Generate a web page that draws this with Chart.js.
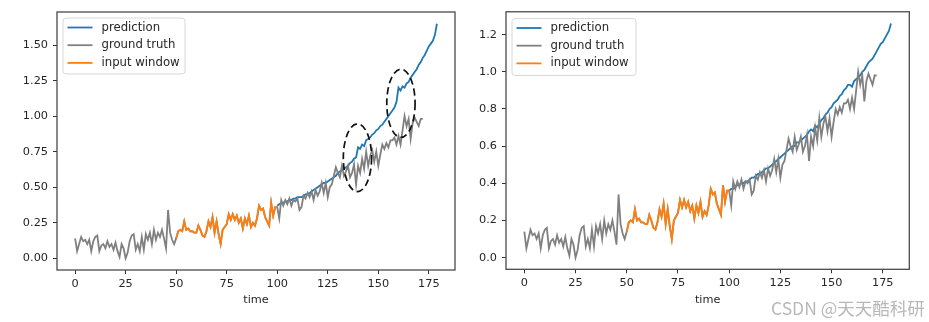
<!DOCTYPE html>
<html>
<head>
<meta charset="utf-8">
<script src="https://cdn.jsdelivr.net/npm/chart.js@4.4.1/dist/chart.umd.min.js"></script>
<style>
  html, body { margin: 0; padding: 0; background: #fff; }
  #wrap { position: relative; width: 929px; height: 322px; overflow: hidden; }
  #leftBox { position: absolute; left: 0; top: 0; width: 460px; height: 322px; }
  #rightBox { position: absolute; left: 460px; top: 0; width: 469px; height: 322px; }
  #mark { position: absolute; left: 771px; top: 295px; font: 17.5px "Noto Sans CJK SC", sans-serif;
          color: #b8b8b8; white-space: nowrap; }
</style>
</head>
<body>
<div id="wrap">
  <div id="leftBox"><canvas id="leftChart"></canvas></div>
  <div id="rightBox"><canvas id="rightChart"></canvas></div>
  <div id="mark">CSDN @天天酷科研</div>
</div>
<script>
// observed series, t = 0..172
const groundTruth = [
  0.14, 0.05, 0.10, 0.15, 0.12, 0.13, 0.10, 0.13, 0.05, 0.12,
  0.15, 0.16, 0.05, 0.09, 0.10, 0.07, 0.12, 0.08, 0.10, 0.06,
  0.11, 0.05, 0.01, 0.10, 0.07, 0.00, 0.04, 0.12, 0.16, 0.17,
  0.06, 0.10, 0.05, 0.15, 0.06, 0.17, 0.13, 0.18, 0.10, 0.20,
  0.13, 0.18, 0.15, 0.20, 0.14, 0.07, 0.34, 0.18, 0.13, 0.10,
  0.14, 0.19, 0.20, 0.19, 0.26, 0.20, 0.21, 0.19, 0.19, 0.18,
  0.18, 0.23, 0.20, 0.16, 0.15, 0.19, 0.26, 0.22, 0.29, 0.18,
  0.26, 0.17, 0.10, 0.20, 0.22, 0.24, 0.31, 0.27, 0.31, 0.27,
  0.30, 0.25, 0.28, 0.21, 0.28, 0.24, 0.30, 0.22, 0.25, 0.23,
  0.28, 0.37, 0.34, 0.35, 0.29, 0.26, 0.23, 0.39, 0.30, 0.36,
  0.36, 0.28, 0.41, 0.37, 0.41, 0.38, 0.42, 0.37, 0.41, 0.40,
  0.42, 0.34, 0.36, 0.44, 0.42, 0.46, 0.43, 0.47, 0.41, 0.48,
  0.44, 0.47, 0.53, 0.46, 0.53, 0.43, 0.50, 0.52, 0.58, 0.64,
  0.60, 0.57, 0.65, 0.58, 0.61, 0.65, 0.57, 0.60, 0.66, 0.52,
  0.65, 0.60, 0.70, 0.63, 0.75, 0.65, 0.72, 0.76, 0.68, 0.75,
  0.65, 0.73, 0.80, 0.77, 0.81, 0.78, 0.83, 0.83, 0.85, 0.80,
  0.86, 0.80, 0.90, 1.00, 0.93, 0.98, 0.84, 0.95, 0.99, 0.96,
  0.93, 0.98, 0.98
];

// input window covers t = 50..100
const windowStart = 50;
const windowEnd = 100;

// forecasts, t = 100..179
const predStart = 100;
const predLeft = [
  0.37, 0.38, 0.39, 0.39, 0.40, 0.40, 0.41, 0.41, 0.42, 0.42,
  0.43, 0.43, 0.43, 0.44, 0.45, 0.45, 0.46, 0.47, 0.48, 0.49,
  0.50, 0.51, 0.52, 0.53, 0.53, 0.54, 0.55, 0.56, 0.57, 0.58,
  0.60, 0.61, 0.62, 0.63, 0.64, 0.65, 0.67, 0.68, 0.70, 0.71,
  0.78, 0.77, 0.80, 0.79, 0.83, 0.84, 0.85, 0.87, 0.88, 0.90,
  0.91, 0.93, 0.94, 0.96, 0.98, 1.00, 1.02, 1.04, 1.06, 1.10,
  1.20, 1.18, 1.21, 1.20, 1.23, 1.24, 1.27, 1.29, 1.31, 1.33,
  1.36, 1.38, 1.41, 1.43, 1.46, 1.49, 1.51, 1.53, 1.57, 1.65
];
const predRight = [
  0.36, 0.37, 0.37, 0.38, 0.39, 0.39, 0.40, 0.40, 0.41, 0.41,
  0.42, 0.43, 0.43, 0.44, 0.45, 0.45, 0.46, 0.47, 0.48, 0.48,
  0.49, 0.50, 0.51, 0.52, 0.53, 0.54, 0.55, 0.56, 0.57, 0.58,
  0.59, 0.60, 0.60, 0.62, 0.62, 0.63, 0.64, 0.65, 0.66, 0.68,
  0.69, 0.68, 0.71, 0.70, 0.72, 0.74, 0.75, 0.77, 0.78, 0.80,
  0.81, 0.83, 0.84, 0.85, 0.87, 0.88, 0.90, 0.91, 0.93, 0.93,
  0.92, 0.95, 0.96, 0.97, 0.98, 1.00, 1.01, 1.03, 1.05, 1.06,
  1.07, 1.09, 1.11, 1.13, 1.15, 1.16, 1.18, 1.20, 1.22, 1.26
];

const xTicks = [0, 25, 50, 75, 100, 125, 150, 175];
const yTicksLeft = [0, 0.25, 0.5, 0.75, 1.0, 1.25, 1.5];
const yTicksRight = [0, 0.2, 0.4, 0.6, 0.8, 1.0, 1.2];

// dashed ellipses marking the jumps in the left forecast (data units)
const highlights = [
  { x: 139.7, y: 0.707, rx: 7.0, ry: 0.238 },
  { x: 161.2, y: 1.090, rx: 7.0, ry: 0.240 }
];

const BLUE = '#1f77b4', GRAY = '#808080', ORANGE = '#ff7f0e';
const FONT = 'DejaVu Sans';

function toPoints(values, start) {
  return values.map((v, i) => ({ x: start + i, y: v }));
}

function lineSet(label, data, color, order) {
  return { label, data, borderColor: color, backgroundColor: color, borderWidth: 1.8,
           pointRadius: 0, tension: 0, order };
}

// axes frame drawn on all four sides
const framePlugin = {
  id: 'frame',
  afterDraw(chart) {
    const { ctx, chartArea: a } = chart;
    ctx.save();
    ctx.strokeStyle = '#4a4a4a';
    ctx.lineWidth = 1.3;
    ctx.strokeRect(a.left, a.top, a.right - a.left, a.bottom - a.top);
    ctx.restore();
  }
};

// legend box inside the axes, upper left
const legendPlugin = {
  id: 'boxLegend',
  afterDraw(chart, args, opts) {
    const { ctx, chartArea: a } = chart;
    const x0 = a.left + opts.dx, y0 = a.top + opts.dy;
    ctx.save();
    ctx.fillStyle = 'rgba(255,255,255,0.9)';
    ctx.strokeStyle = '#d8d8d8';
    ctx.lineWidth = 1;
    ctx.beginPath();
    ctx.roundRect(x0, y0, opts.w, opts.h, 3);
    ctx.fill();
    ctx.stroke();
    ctx.font = '11.7px ' + FONT;
    ctx.textBaseline = 'middle';
    chart.data.datasets.forEach((ds, i) => {
      const yy = y0 + 9.5 + i * 17.7;
      ctx.strokeStyle = ds.borderColor;
      ctx.lineWidth = 1.8;
      ctx.beginPath();
      ctx.moveTo(x0 + 4.5, yy);
      ctx.lineTo(x0 + 29.5, yy);
      ctx.stroke();
      ctx.fillStyle = '#262626';
      ctx.fillText(ds.label, x0 + 38.5, yy);
    });
    ctx.restore();
  }
};

const ellipsePlugin = {
  id: 'highlights',
  afterDatasetsDraw(chart, args, opts) {
    if (!opts.items) return;
    const { ctx, scales: { x, y } } = chart;
    ctx.save();
    ctx.strokeStyle = '#111';
    ctx.lineWidth = 1.7;
    ctx.setLineDash([7, 4]);
    opts.items.forEach(e => {
      const cx = x.getPixelForValue(e.x), cy = y.getPixelForValue(e.y);
      const rx = x.getPixelForValue(e.x + e.rx) - cx;
      const ry = cy - y.getPixelForValue(e.y + e.ry);
      ctx.beginPath();
      ctx.ellipse(cx, cy, rx, ry, 0, 0, Math.PI * 2);
      ctx.stroke();
    });
    ctx.restore();
  }
};

function makeChart(id, pred, yTicks, digits, cfg) {
  const yMax = Math.max(...pred, ...groundTruth), yMin = Math.min(...pred, ...groundTruth);
  const yPad = (yMax - yMin) * 0.05;
  const xPad = (predStart + pred.length - 1) * 0.05;
  return new Chart(document.getElementById(id), {
    type: 'line',
    data: {
      datasets: [
        lineSet('prediction', toPoints(pred, predStart), BLUE, 3),
        lineSet('ground truth', toPoints(groundTruth, 0), GRAY, 2),
        lineSet('input window', toPoints(groundTruth.slice(windowStart, windowEnd + 1), windowStart), ORANGE, 1)
      ]
    },
    options: {
      responsive: false,
      animation: false,
      events: [],
      layout: { padding: { left: 0, right: cfg.padRight, top: cfg.padTop, bottom: 0 } },
      plugins: {
        legend: { display: false },
        tooltip: { enabled: false },
        boxLegend: cfg.legend,
        highlights: { items: cfg.highlights }
      },
      scales: {
        x: {
          type: 'linear',
          min: -xPad,
          max: predStart + pred.length - 1 + xPad,
          afterBuildTicks: s => { s.ticks = xTicks.map(v => ({ value: v })); },
          afterFit: s => { s.height = cfg.xHeight; },
          grid: { drawOnChartArea: false, drawTicks: true, tickLength: 4, color: '#333', lineWidth: 1 },
          border: { display: false },
          ticks: { font: { family: FONT, size: 11.3 }, color: '#262626', padding: 3, maxRotation: 0,
                   callback: v => String(v) },
          title: { display: true, text: 'time', font: { family: FONT, size: 11.3 }, color: '#262626',
                   padding: { top: 0, bottom: 15 } }
        },
        y: {
          min: yMin - yPad,
          max: yMax + yPad,
          afterBuildTicks: s => { s.ticks = yTicks.map(v => ({ value: v })); },
          afterFit: s => { s.width = cfg.yWidth; },
          grid: { drawOnChartArea: false, drawTicks: true, tickLength: 4, color: '#333', lineWidth: 1 },
          border: { display: false },
          ticks: { font: { family: FONT, size: 11.3 }, color: '#262626', padding: 5,
                   callback: v => Number(v).toFixed(digits) }
        }
      }
    },
    plugins: [framePlugin, legendPlugin, ellipsePlugin]
  });
}

const lc = document.getElementById('leftChart');
lc.width = 460; lc.height = 322;
const rc = document.getElementById('rightChart');
rc.width = 469; rc.height = 322;

makeChart('leftChart', predLeft, yTicksLeft, 2, {
  padRight: 5, padTop: 12, xHeight: 52, yWidth: 57,
  legend: { dx: 6, dy: 6, w: 122, h: 56 },
  highlights: highlights
});
makeChart('rightChart', predRight, yTicksRight, 1, {
  padRight: 19.7, padTop: 6, xHeight: 52.7, yWidth: 46,
  legend: { dx: 6, dy: 6.7, w: 124, h: 57 },
  highlights: null
});
</script>
</body>
</html>
